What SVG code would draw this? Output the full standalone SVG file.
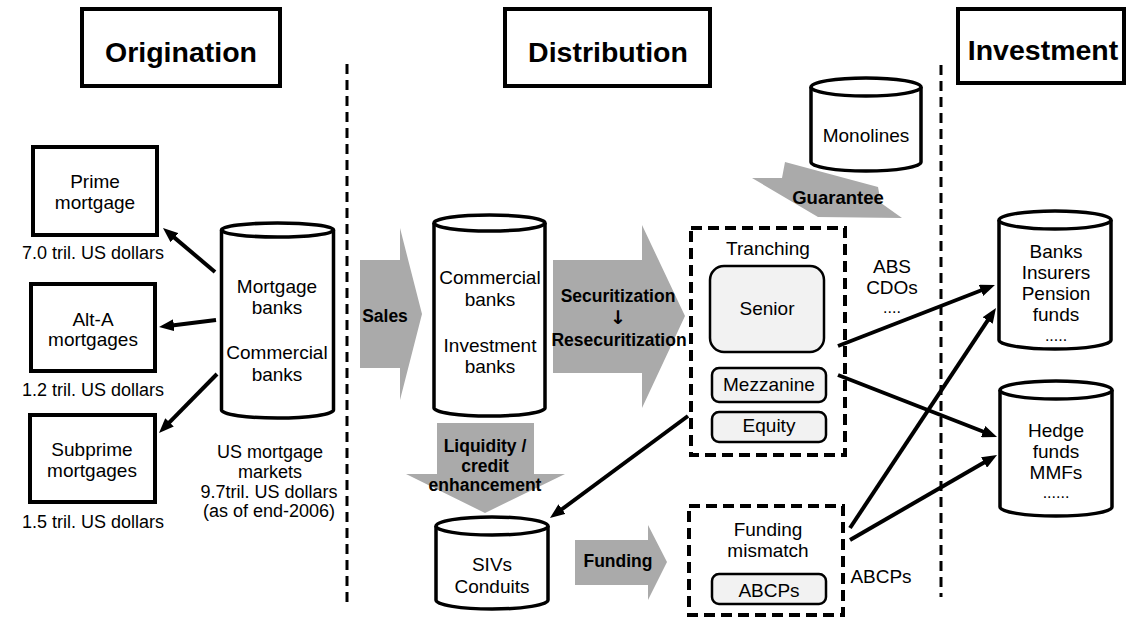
<svg xmlns="http://www.w3.org/2000/svg" width="1132" height="631" viewBox="0 0 1132 631">
<style>
text{font-family:"Liberation Sans",Arial,sans-serif;fill:#000;text-anchor:middle}
.t{font-size:19px}
.d{font-size:16px}
.b{font-size:17.5px;font-weight:bold}
.h{font-size:28.5px;font-weight:bold}
.box{fill:#fff;stroke:#000;stroke-width:4}
.cyl{fill:#fff;stroke:#000;stroke-width:3.5}
.rr{fill:#f2f2f2;stroke:#000;stroke-width:2.5}
.dbox{fill:none;stroke:#000;stroke-width:4;stroke-dasharray:11 6}
.vline{stroke:#000;stroke-width:3;stroke-dasharray:10 6}
.gray{fill:#aaaaaa}
.conn{stroke:#000;stroke-width:4;fill:none;marker-end:url(#ah)}
</style>
<defs>
<marker id="ah" markerUnits="userSpaceOnUse" viewBox="0 0 15 12" markerWidth="15" markerHeight="12" refX="4" refY="6" orient="auto">
<path d="M0,0 L15,6 L0,12 Z" fill="#000"/>
</marker>
</defs>
<rect width="1132" height="631" fill="#fff"/>

<g id="dividers">
<line class="vline" x1="347" y1="64" x2="347" y2="608"/>
<line class="vline" x1="941" y1="65" x2="941" y2="597"/>
</g>

<g id="title-origination">
<rect class="box" x="82" y="9" width="198" height="77"/>
<text class="h" x="181" y="62">Origination</text>
</g>
<g id="title-distribution">
<rect class="box" x="505" y="9" width="205" height="77"/>
<text class="h" x="608" y="62">Distribution</text>
</g>
<g id="title-investment">
<rect class="box" x="958" y="9" width="166" height="74"/>
<text class="h" x="1043" y="60">Investment</text>
</g>

<g id="flows">
<g id="sales">
<polygon class="gray" points="360,260 400,260 400,228 422,314 400,400 400,368 360,368"/>
<text class="b" x="385" y="322">Sales</text>
</g>
<g id="securitization">
<polygon class="gray" points="553,260 642,260 642,225 685,316 642,408 642,373 553,373"/>
<text class="b" x="618" y="302">Securitization</text>
<text class="b" x="618" y="324" style="font-family:'DejaVu Sans',sans-serif;font-size:19px">↓</text>
<text class="b" x="619" y="346">Resecuritization</text>
</g>
<g id="liquidity">
<polygon class="gray" points="437,423 534,423 534,474 565,474 485,513 406,474 437,474"/>
<text class="b" x="485" y="452">Liquidity /</text>
<text class="b" x="485" y="472">credit</text>
<text class="b" x="485" y="491">enhancement</text>
</g>
<g id="funding">
<polygon class="gray" points="575,540 648,540 648,525 667,562 648,600 648,585 575,585"/>
<text class="b" x="618" y="567">Funding</text>
</g>
<g id="guarantee">
<polygon class="gray" points="785,162 878,187 881,203 902,218 818,217 752,178 782,178"/>
<text class="b" x="838" y="204" style="font-size:18.5px">Guarantee</text>
</g>
</g>

<g id="prime">
<rect class="box" x="33" y="147" width="124" height="88"/>
<text class="t" x="95" y="188">Prime</text>
<text class="t" x="95" y="209">mortgage</text>
<text class="t" x="93" y="259" style="font-size:18px">7.0 tril. US dollars</text>
</g>
<g id="alta">
<rect class="box" x="31" y="284" width="124" height="87"/>
<text class="t" x="93" y="326">Alt-A</text>
<text class="t" x="93" y="346">mortgages</text>
<text class="t" x="93" y="396" style="font-size:18px">1.2 tril. US dollars</text>
</g>
<g id="subprime">
<rect class="box" x="30" y="415" width="125" height="87"/>
<text class="t" x="92" y="456">Subprime</text>
<text class="t" x="92" y="477">mortgages</text>
<text class="t" x="93" y="528" style="font-size:18px">1.5 tril. US dollars</text>
</g>

<g id="mortgage-banks">
<path class="cyl" d="M221.5,230 V410 A56,8 0 0 0 333.5,410 V230"/>
<ellipse class="cyl" cx="277.5" cy="230" rx="56" ry="7"/>
<text class="t" x="277" y="293">Mortgage</text>
<text class="t" x="277" y="314">banks</text>
<text class="t" x="277" y="359">Commercial</text>
<text class="t" x="277" y="381">banks</text>
<text class="t" x="270" y="458" style="font-size:18px">US mortgage</text>
<text class="t" x="270" y="478" style="font-size:18px">markets</text>
<text class="t" x="269" y="498" style="font-size:18px">9.7tril. US dollars</text>
<text class="t" x="269" y="517" style="font-size:18px">(as of end-2006)</text>
</g>

<g id="comm-inv-banks">
<path class="cyl" d="M434,223 V408 A55.5,8 0 0 0 545,408 V223"/>
<ellipse class="cyl" cx="489.5" cy="223" rx="55.5" ry="8"/>
<text class="t" x="490" y="284">Commercial</text>
<text class="t" x="490" y="306">banks</text>
<text class="t" x="490" y="352">Investment</text>
<text class="t" x="490" y="373">banks</text>
</g>

<g id="monolines">
<path class="cyl" d="M811,87 V162 A55,9 0 0 0 921,162 V87"/>
<ellipse class="cyl" cx="866" cy="87" rx="55" ry="9"/>
<text class="t" x="866" y="142">Monolines</text>
</g>

<g id="tranching">
<rect class="dbox" x="691" y="228" width="154" height="227"/>
<text class="t" x="768" y="255">Tranching</text>
<rect class="rr" x="710" y="266" width="114" height="86" rx="14"/>
<text class="t" x="767" y="315">Senior</text>
<rect class="rr" x="712" y="368" width="114" height="34" rx="7"/>
<text class="t" x="769" y="391">Mezzanine</text>
<rect class="rr" x="712" y="412" width="114" height="30" rx="7"/>
<text class="t" x="769" y="432">Equity</text>
</g>

<g id="abs-label">
<text class="t" x="892" y="273">ABS</text>
<text class="t" x="892" y="294">CDOs</text>
<text class="d" x="892" y="313">....</text>
</g>

<g id="sivs">
<path class="cyl" d="M436,526 V600 A56,9 0 0 0 548,600 V526"/>
<ellipse class="cyl" cx="492" cy="526" rx="56" ry="9"/>
<text class="t" x="492" y="571">SIVs</text>
<text class="t" x="492" y="593">Conduits</text>
</g>

<g id="funding-mismatch">
<rect class="dbox" x="689" y="506" width="154" height="109"/>
<text class="t" x="768" y="536">Funding</text>
<text class="t" x="768" y="557">mismatch</text>
<rect class="rr" x="712" y="574" width="114" height="30" rx="7"/>
<text class="t" x="769" y="597">ABCPs</text>
</g>

<g id="abcps-label">
<text class="t" x="881" y="583">ABCPs</text>
</g>

<g id="banks-insurers">
<path class="cyl" d="M999,220 V340 A56,9 0 0 0 1111,340 V220"/>
<ellipse class="cyl" cx="1055" cy="220" rx="56" ry="9"/>
<text class="t" x="1056" y="258">Banks</text>
<text class="t" x="1056" y="279">Insurers</text>
<text class="t" x="1056" y="300">Pension</text>
<text class="t" x="1056" y="321">funds</text>
<text class="d" x="1056" y="341">.....</text>
</g>

<g id="hedge-funds">
<path class="cyl" d="M1000,390 V507 A56,9 0 0 0 1112,507 V390"/>
<ellipse class="cyl" cx="1056" cy="390" rx="56" ry="9"/>
<text class="t" x="1056" y="437">Hedge</text>
<text class="t" x="1056" y="458">funds</text>
<text class="t" x="1056" y="479">MMFs</text>
<text class="d" x="1056" y="498">......</text>
</g>

<g id="connectors">
<line class="conn" x1="215" y1="272" x2="171.4" y2="235.1"/>
<line class="conn" x1="216" y1="320" x2="169.9" y2="325.7"/>
<line class="conn" x1="217" y1="374" x2="166.7" y2="425.2"/>
<line class="conn" x1="688" y1="416" x2="558.8" y2="511.5"/>
<line class="conn" x1="838" y1="346" x2="984.7" y2="289"/>
<line class="conn" x1="838" y1="375" x2="986.8" y2="433"/>
<line class="conn" x1="850" y1="528" x2="989.9" y2="317.2"/>
<line class="conn" x1="850" y1="540" x2="987.5" y2="460.5"/>
</g>
</svg>
